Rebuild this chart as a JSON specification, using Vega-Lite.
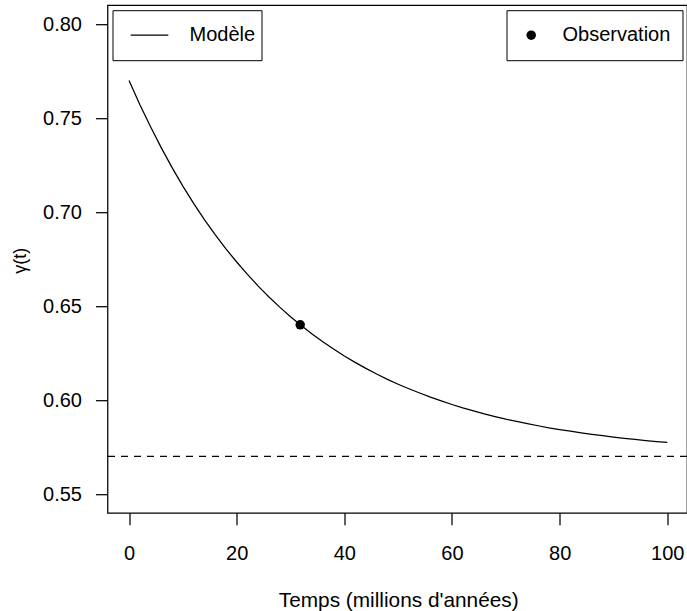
{
  "$schema": "https://vega.github.io/schema/vega-lite/v6.json",
  "width": 579.5,
  "height": 507.6,
  "autosize": {"type": "none"},
  "padding": {"left": 107.5, "top": 5.2, "right": 0, "bottom": 98.2},
  "background": "white",
  "config": {
    "font": "Liberation Sans",
    "view": {"stroke": "black", "strokeWidth": 1.25},
    "axis": {
      "domain": false, "grid": false, "tickColor": "black", "tickSize": 12, "tickWidth": 1.25,
      "labelColor": "black", "labelFontSize": 20, "labelFont": "Liberation Sans",
      "titleFont": "Liberation Sans", "titleColor": "black", "titleFontWeight": "normal", "titleFontSize": 20,
      "labelFlush": false, "labelOverlap": false
    },
    "legend": {"labelFont": "Liberation Sans", "labelColor": "black", "labelFontSize": 20}
  },
  "datasets": {
    "curve": [
      {"t": 0, "g": 0.77}, {"t": 2, "g": 0.7572}, {"t": 4, "g": 0.7453}, {"t": 6, "g": 0.7341},
      {"t": 8, "g": 0.7236}, {"t": 10, "g": 0.7138}, {"t": 12, "g": 0.7046}, {"t": 14, "g": 0.696},
      {"t": 16, "g": 0.688}, {"t": 18, "g": 0.6804}, {"t": 20, "g": 0.6734}, {"t": 22, "g": 0.6668},
      {"t": 24, "g": 0.6606}, {"t": 26, "g": 0.6548}, {"t": 28, "g": 0.6494}, {"t": 30, "g": 0.6443},
      {"t": 32, "g": 0.6396}, {"t": 34, "g": 0.6351}, {"t": 36, "g": 0.631}, {"t": 38, "g": 0.6271},
      {"t": 40, "g": 0.6234}, {"t": 42, "g": 0.62}, {"t": 44, "g": 0.6168}, {"t": 46, "g": 0.6138},
      {"t": 48, "g": 0.611}, {"t": 50, "g": 0.6084}, {"t": 52, "g": 0.606}, {"t": 54, "g": 0.6037},
      {"t": 56, "g": 0.6015}, {"t": 58, "g": 0.5995}, {"t": 60, "g": 0.5976}, {"t": 62, "g": 0.5958},
      {"t": 64, "g": 0.5942}, {"t": 66, "g": 0.5926}, {"t": 68, "g": 0.5912}, {"t": 70, "g": 0.5898},
      {"t": 72, "g": 0.5886}, {"t": 74, "g": 0.5874}, {"t": 76, "g": 0.5863}, {"t": 78, "g": 0.5852},
      {"t": 80, "g": 0.5843}, {"t": 82, "g": 0.5834}, {"t": 84, "g": 0.5825}, {"t": 86, "g": 0.5817},
      {"t": 88, "g": 0.581}, {"t": 90, "g": 0.5803}, {"t": 92, "g": 0.5796}, {"t": 94, "g": 0.579},
      {"t": 96, "g": 0.5784}, {"t": 98, "g": 0.5779}, {"t": 100, "g": 0.5774}
    ],
    "obs": [{"t": 31.8, "g": 0.64}],
    "asym": [{"h": 0.57}]
  },
  "layer": [
    {
      "data": {"name": "curve"},
      "mark": {"type": "line", "strokeWidth": 1.25},
      "encoding": {
        "x": {
          "field": "t", "type": "quantitative",
          "scale": {"domain": [-4, 103.66], "nice": false, "zero": false},
          "axis": {
            "values": [0, 20, 40, 60, 80, 100], "labelPadding": 18.7,
            "title": "Temps (millions d'années)", "titleBaseline": "alphabetic",
            "titleFontSize": 20.8, "titleY": 93.9, "titleX": 290.7
          }
        },
        "y": {
          "field": "g", "type": "quantitative",
          "scale": {"domain": [0.54, 0.81], "nice": false, "zero": false},
          "axis": {
            "values": [0.55, 0.6, 0.65, 0.7, 0.75, 0.8], "format": ".2f", "labelPadding": 14,
            "title": "γ(t)", "titleFontSize": 18, "titleX": -87, "titleY": 255,
            "titleBaseline": "middle", "titleAngle": -90
          }
        },
        "color": {
          "datum": "Modèle", "type": "nominal",
          "scale": {"range": ["black"]},
          "legend": {
            "title": null, "orient": "top-left", "offset": 5, "symbolType": "stroke",
            "symbolSize": 1414, "symbolStrokeWidth": 1.25, "symbolStrokeColor": "black",
            "labelOffset": 20.5, "symbolOffset": 11.5, "padding": 6, "clipHeight": 38,
            "strokeColor": "black", "labelFontSize": 20, "labelColor": "black"
          }
        }
      }
    },
    {
      "data": {"name": "obs"},
      "mark": {"type": "point", "filled": true, "size": 90, "color": "black", "opacity": 1},
      "encoding": {
        "x": {"field": "t", "type": "quantitative"},
        "y": {"field": "g", "type": "quantitative"},
        "shape": {
          "datum": "Observation", "type": "nominal",
          "scale": {"range": ["circle"]},
          "legend": {
            "title": null, "orient": "top-right", "offset": 5, "symbolSize": 90,
            "symbolFillColor": "black", "symbolStrokeColor": "black", "symbolStrokeWidth": 0,
            "labelOffset": 21.3, "symbolOffset": 2.7, "padding": 12, "clipHeight": 26,
            "strokeColor": "black", "labelFontSize": 20, "labelColor": "black"
          }
        }
      }
    },
    {
      "data": {"name": "asym"},
      "mark": {"type": "rule", "strokeDash": [7, 6], "color": "black", "strokeWidth": 1.25},
      "encoding": {"y": {"field": "h", "type": "quantitative"}}
    }
  ]
}
